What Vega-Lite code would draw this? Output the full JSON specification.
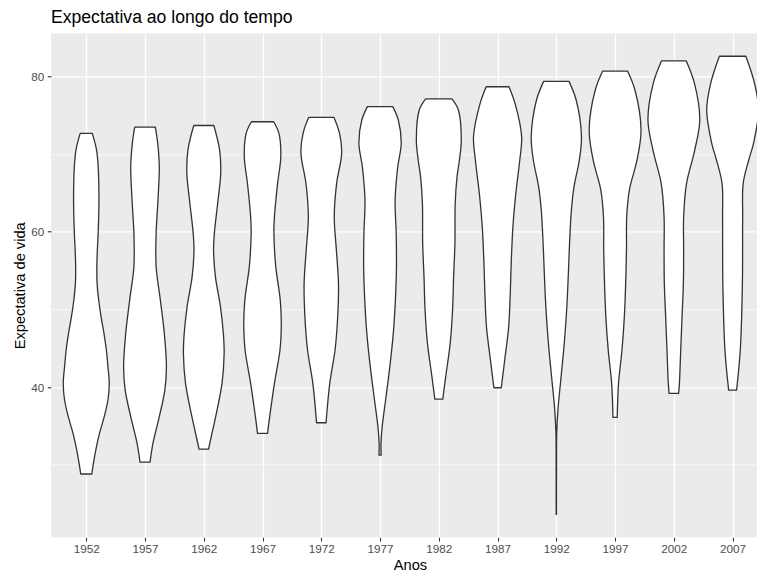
{
  "$schema": "https://vega.github.io/schema/vega-lite/v6.json",
  "width": 706,
  "height": 504,
  "autosize": {"type": "none"},
  "padding": {"left": 51, "top": 33.3, "right": 0, "bottom": 34.7},
  "background": "white",
  "title": {
    "text": "Expectativa ao longo do tempo",
    "anchor": "start",
    "frame": "group",
    "font": "Liberation Sans",
    "fontSize": 17.6,
    "fontWeight": "normal",
    "color": "#000000",
    "baseline": "alphabetic",
    "offset": -7.5
  },
  "config": {
    "view": {"fill": "#EBEBEB", "stroke": null},
    "axis": {
      "domain": false,
      "grid": true,
      "gridColor": "#FFFFFF",
      "tickColor": "#333333",
      "tickSize": 3.67,
      "tickWidth": 1.1,
      "labelFont": "Liberation Sans",
      "labelFontSize": 11.7,
      "labelColor": "#4D4D4D",
      "titleFont": "Liberation Sans",
      "titleFontSize": 14.67,
      "titleFontWeight": "normal",
      "titleColor": "#000000"
    }
  },
  "data": {
    "values": [
      {"year": 1952, "lifeExp": 28.8, "density": 0.21},
      {"year": 1952, "lifeExp": 29.74, "density": 0.25},
      {"year": 1952, "lifeExp": 31.89, "density": 0.36},
      {"year": 1952, "lifeExp": 34.03, "density": 0.5},
      {"year": 1952, "lifeExp": 36.18, "density": 0.68},
      {"year": 1952, "lifeExp": 38.33, "density": 0.82},
      {"year": 1952, "lifeExp": 40.47, "density": 0.87},
      {"year": 1952, "lifeExp": 42.62, "density": 0.82},
      {"year": 1952, "lifeExp": 44.77, "density": 0.76},
      {"year": 1952, "lifeExp": 46.91, "density": 0.67},
      {"year": 1952, "lifeExp": 49.06, "density": 0.56},
      {"year": 1952, "lifeExp": 51.21, "density": 0.47},
      {"year": 1952, "lifeExp": 53.35, "density": 0.41},
      {"year": 1952, "lifeExp": 55.5, "density": 0.4},
      {"year": 1952, "lifeExp": 57.65, "density": 0.42},
      {"year": 1952, "lifeExp": 59.79, "density": 0.45},
      {"year": 1952, "lifeExp": 64.08, "density": 0.48},
      {"year": 1952, "lifeExp": 68.38, "density": 0.45},
      {"year": 1952, "lifeExp": 70.52, "density": 0.39},
      {"year": 1952, "lifeExp": 72.67, "density": 0.23},

      {"year": 1957, "lifeExp": 30.33, "density": 0.19},
      {"year": 1957, "lifeExp": 32.75, "density": 0.3},
      {"year": 1957, "lifeExp": 36.18, "density": 0.54},
      {"year": 1957, "lifeExp": 39.61, "density": 0.75},
      {"year": 1957, "lifeExp": 42.62, "density": 0.81},
      {"year": 1957, "lifeExp": 46.91, "density": 0.73},
      {"year": 1957, "lifeExp": 51.21, "density": 0.58},
      {"year": 1957, "lifeExp": 55.5, "density": 0.42},
      {"year": 1957, "lifeExp": 59.79, "density": 0.42},
      {"year": 1957, "lifeExp": 64.08, "density": 0.49},
      {"year": 1957, "lifeExp": 68.38, "density": 0.54},
      {"year": 1957, "lifeExp": 71.38, "density": 0.48},
      {"year": 1957, "lifeExp": 73.47, "density": 0.39},

      {"year": 1962, "lifeExp": 32.0, "density": 0.18},
      {"year": 1962, "lifeExp": 34.03, "density": 0.31},
      {"year": 1962, "lifeExp": 36.18, "density": 0.45},
      {"year": 1962, "lifeExp": 40.47, "density": 0.69},
      {"year": 1962, "lifeExp": 44.34, "density": 0.77},
      {"year": 1962, "lifeExp": 46.91, "density": 0.74},
      {"year": 1962, "lifeExp": 50.35, "density": 0.63},
      {"year": 1962, "lifeExp": 54.21, "density": 0.44},
      {"year": 1962, "lifeExp": 57.65, "density": 0.37},
      {"year": 1962, "lifeExp": 59.79, "density": 0.4},
      {"year": 1962, "lifeExp": 64.08, "density": 0.54},
      {"year": 1962, "lifeExp": 67.52, "density": 0.64},
      {"year": 1962, "lifeExp": 70.52, "density": 0.6},
      {"year": 1962, "lifeExp": 73.68, "density": 0.38},

      {"year": 1967, "lifeExp": 34.02, "density": 0.19},
      {"year": 1967, "lifeExp": 36.18, "density": 0.27},
      {"year": 1967, "lifeExp": 40.47, "density": 0.45},
      {"year": 1967, "lifeExp": 44.77, "density": 0.66},
      {"year": 1967, "lifeExp": 47.77, "density": 0.71},
      {"year": 1967, "lifeExp": 51.21, "density": 0.67},
      {"year": 1967, "lifeExp": 55.5, "density": 0.5},
      {"year": 1967, "lifeExp": 59.79, "density": 0.43},
      {"year": 1967, "lifeExp": 61.94, "density": 0.45},
      {"year": 1967, "lifeExp": 66.23, "density": 0.57},
      {"year": 1967, "lifeExp": 69.66, "density": 0.69},
      {"year": 1967, "lifeExp": 72.67, "density": 0.62},
      {"year": 1967, "lifeExp": 74.16, "density": 0.42},

      {"year": 1972, "lifeExp": 35.4, "density": 0.18},
      {"year": 1972, "lifeExp": 40.47, "density": 0.32},
      {"year": 1972, "lifeExp": 44.77, "density": 0.52},
      {"year": 1972, "lifeExp": 49.06, "density": 0.62},
      {"year": 1972, "lifeExp": 53.35, "density": 0.65},
      {"year": 1972, "lifeExp": 57.65, "density": 0.57},
      {"year": 1972, "lifeExp": 61.94, "density": 0.49},
      {"year": 1972, "lifeExp": 66.23, "density": 0.58},
      {"year": 1972, "lifeExp": 70.09, "density": 0.77},
      {"year": 1972, "lifeExp": 72.67, "density": 0.69},
      {"year": 1972, "lifeExp": 74.72, "density": 0.48},

      {"year": 1977, "lifeExp": 31.22, "density": 0.04},
      {"year": 1977, "lifeExp": 32.75, "density": 0.035},
      {"year": 1977, "lifeExp": 34.89, "density": 0.08},
      {"year": 1977, "lifeExp": 38.33, "density": 0.21},
      {"year": 1977, "lifeExp": 42.62, "density": 0.37},
      {"year": 1977, "lifeExp": 46.91, "density": 0.5},
      {"year": 1977, "lifeExp": 51.21, "density": 0.58},
      {"year": 1977, "lifeExp": 55.5, "density": 0.62},
      {"year": 1977, "lifeExp": 59.79, "density": 0.61},
      {"year": 1977, "lifeExp": 64.08, "density": 0.57},
      {"year": 1977, "lifeExp": 68.38, "density": 0.67},
      {"year": 1977, "lifeExp": 71.38, "density": 0.8},
      {"year": 1977, "lifeExp": 74.39, "density": 0.69},
      {"year": 1977, "lifeExp": 76.11, "density": 0.48},

      {"year": 1982, "lifeExp": 38.45, "density": 0.15},
      {"year": 1982, "lifeExp": 41.33, "density": 0.26},
      {"year": 1982, "lifeExp": 45.63, "density": 0.43},
      {"year": 1982, "lifeExp": 49.92, "density": 0.52},
      {"year": 1982, "lifeExp": 54.21, "density": 0.56},
      {"year": 1982, "lifeExp": 58.51, "density": 0.61},
      {"year": 1982, "lifeExp": 63.66, "density": 0.62},
      {"year": 1982, "lifeExp": 67.09, "density": 0.69},
      {"year": 1982, "lifeExp": 69.24, "density": 0.78},
      {"year": 1982, "lifeExp": 71.81, "density": 0.85},
      {"year": 1982, "lifeExp": 75.68, "density": 0.74},
      {"year": 1982, "lifeExp": 77.11, "density": 0.5},

      {"year": 1987, "lifeExp": 39.91, "density": 0.14},
      {"year": 1987, "lifeExp": 43.48, "density": 0.27},
      {"year": 1987, "lifeExp": 47.77, "density": 0.42},
      {"year": 1987, "lifeExp": 52.07, "density": 0.48},
      {"year": 1987, "lifeExp": 56.36, "density": 0.52},
      {"year": 1987, "lifeExp": 60.65, "density": 0.58},
      {"year": 1987, "lifeExp": 64.94, "density": 0.69},
      {"year": 1987, "lifeExp": 69.24, "density": 0.84},
      {"year": 1987, "lifeExp": 72.24, "density": 0.91},
      {"year": 1987, "lifeExp": 76.53, "density": 0.66},
      {"year": 1987, "lifeExp": 78.67, "density": 0.43},

      {"year": 1992, "lifeExp": 23.6, "density": 0.005},
      {"year": 1992, "lifeExp": 30.6, "density": 0.008},
      {"year": 1992, "lifeExp": 34.04, "density": 0.015},
      {"year": 1992, "lifeExp": 37.04, "density": 0.06},
      {"year": 1992, "lifeExp": 41.33, "density": 0.18},
      {"year": 1992, "lifeExp": 45.63, "density": 0.3},
      {"year": 1992, "lifeExp": 49.92, "density": 0.39},
      {"year": 1992, "lifeExp": 54.21, "density": 0.45},
      {"year": 1992, "lifeExp": 58.51, "density": 0.5},
      {"year": 1992, "lifeExp": 62.8, "density": 0.57},
      {"year": 1992, "lifeExp": 65.8, "density": 0.67},
      {"year": 1992, "lifeExp": 69.24, "density": 0.87},
      {"year": 1992, "lifeExp": 72.24, "density": 0.95},
      {"year": 1992, "lifeExp": 76.96, "density": 0.75},
      {"year": 1992, "lifeExp": 79.36, "density": 0.48},

      {"year": 1997, "lifeExp": 36.09, "density": 0.08},
      {"year": 1997, "lifeExp": 40.47, "density": 0.13},
      {"year": 1997, "lifeExp": 44.77, "density": 0.26},
      {"year": 1997, "lifeExp": 49.06, "density": 0.35},
      {"year": 1997, "lifeExp": 53.35, "density": 0.4},
      {"year": 1997, "lifeExp": 57.65, "density": 0.43},
      {"year": 1997, "lifeExp": 61.94, "density": 0.44},
      {"year": 1997, "lifeExp": 65.37, "density": 0.54},
      {"year": 1997, "lifeExp": 69.24, "density": 0.83},
      {"year": 1997, "lifeExp": 73.1, "density": 0.98},
      {"year": 1997, "lifeExp": 78.25, "density": 0.75},
      {"year": 1997, "lifeExp": 80.69, "density": 0.47},

      {"year": 2002, "lifeExp": 39.19, "density": 0.18},
      {"year": 2002, "lifeExp": 40.47, "density": 0.21},
      {"year": 2002, "lifeExp": 44.77, "density": 0.26},
      {"year": 2002, "lifeExp": 49.06, "density": 0.31},
      {"year": 2002, "lifeExp": 53.35, "density": 0.36},
      {"year": 2002, "lifeExp": 57.65, "density": 0.37},
      {"year": 2002, "lifeExp": 61.94, "density": 0.37},
      {"year": 2002, "lifeExp": 66.23, "density": 0.48},
      {"year": 2002, "lifeExp": 70.52, "density": 0.79},
      {"year": 2002, "lifeExp": 74.39, "density": 0.98},
      {"year": 2002, "lifeExp": 79.11, "density": 0.78},
      {"year": 2002, "lifeExp": 82.0, "density": 0.47},

      {"year": 2007, "lifeExp": 39.61, "density": 0.15},
      {"year": 2007, "lifeExp": 44.77, "density": 0.29},
      {"year": 2007, "lifeExp": 53.35, "density": 0.37},
      {"year": 2007, "lifeExp": 61.94, "density": 0.38},
      {"year": 2007, "lifeExp": 66.23, "density": 0.4},
      {"year": 2007, "lifeExp": 69.24, "density": 0.61},
      {"year": 2007, "lifeExp": 71.38, "density": 0.79},
      {"year": 2007, "lifeExp": 75.67, "density": 0.98},
      {"year": 2007, "lifeExp": 79.11, "density": 0.83},
      {"year": 2007, "lifeExp": 82.6, "density": 0.5}
    ]
  },
  "transform": [
    {"calculate": "datum.year - 2.25 * datum.density", "as": "left"},
    {"calculate": "datum.year + 2.25 * datum.density", "as": "right"}
  ],
  "mark": {
    "type": "area",
    "orient": "horizontal",
    "interpolate": "catmull-rom",
    "fill": "#FFFFFF",
    "stroke": "#333333",
    "strokeWidth": 1.3,
    "strokeJoin": "round",
    "clip": true
  },
  "encoding": {
    "y": {
      "field": "lifeExp",
      "type": "quantitative",
      "scale": {"domain": [20.649, 85.553], "nice": false, "zero": false},
      "axis": {
        "title": "Expectativa de vida",
        "values": [30, 40, 50, 60, 70, 80],
        "labelExpr": "datum.value % 20 === 0 ? datum.label : ''",
        "tickOpacity": {"condition": {"test": "datum.value % 20 === 0", "value": 1}, "value": 0},
        "gridWidth": {"condition": {"test": "datum.value % 20 === 0", "value": 1.3}, "value": 0.65},
        "labelPadding": 3.5,
        "titleAngle": 270,
        "titleBaseline": "alphabetic",
        "titleAlign": "center",
        "titleX": -26.5,
        "titleY": 252
      }
    },
    "x": {
      "field": "left",
      "type": "quantitative",
      "scale": {"domain": [1949, 2009.075], "nice": false, "zero": false},
      "axis": {
        "title": "Anos",
        "values": [1952, 1957, 1962, 1967, 1972, 1977, 1982, 1987, 1992, 1997, 2002, 2007],
        "format": "d",
        "gridWidth": 1.3,
        "labelPadding": 2.5,
        "titleBaseline": "alphabetic",
        "titleAlign": "center",
        "titleX": 359,
        "titleY": 31.7
      }
    },
    "x2": {"field": "right"},
    "detail": {"field": "year", "type": "nominal"}
  }
}
